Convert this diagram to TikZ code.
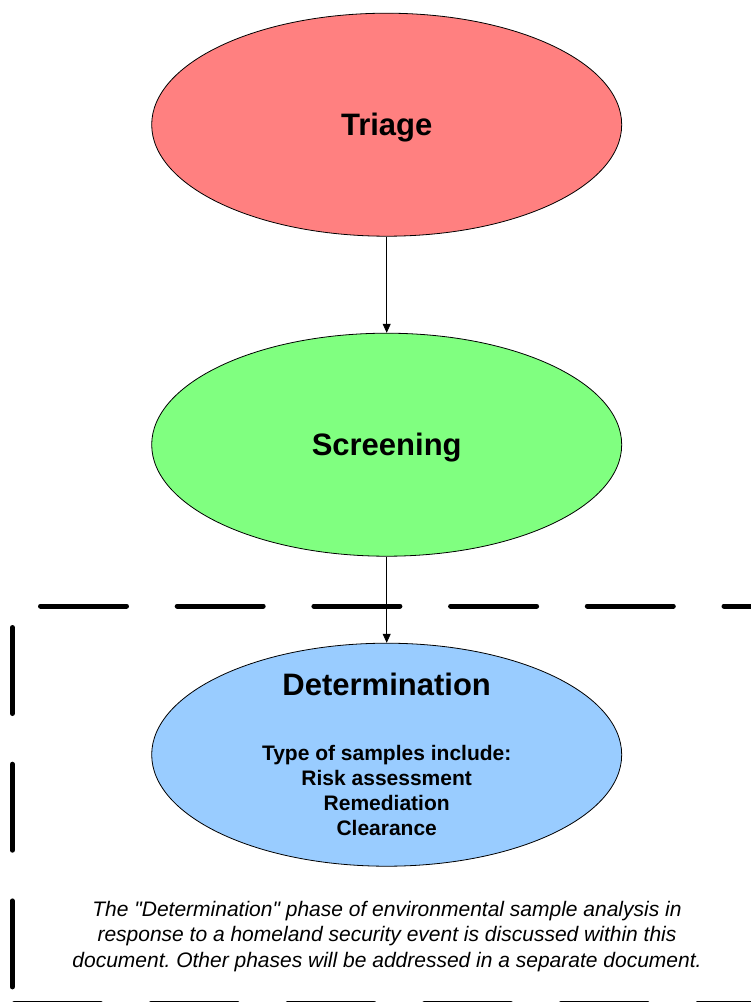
\documentclass[tikz,border=0pt]{standalone}
\usepackage{fontspec}
\setmainfont{Liberation Sans}
\usetikzlibrary{shapes.geometric,arrows.meta}
\definecolor{triagecol}{HTML}{FF8080}
\definecolor{screencol}{HTML}{80FF80}
\definecolor{detcol}{HTML}{99CCFF}
\frenchspacing
\begin{document}
\begin{tikzpicture}[x=1pt,y=-1pt,
  phase/.style={ellipse, draw=black, line width=0.8pt, minimum width=470pt, minimum height=223pt, inner sep=0pt},
  bigtxt/.style={font=\fontsize{31}{37}\selectfont\bfseries, anchor=base, inner sep=0pt},
  subtxt/.style={font=\fontsize{21}{25}\selectfont\bfseries, anchor=base, inner sep=0pt},
  notetxt/.style={font=\fontsize{21}{25}\selectfont\itshape, anchor=base, inner sep=0pt},
  bigdash/.style={line width=5pt, line cap=round, dash pattern=on 86pt off 50.7pt},
  arr/.style={line width=0.8pt, -{Triangle[length=9pt,width=8pt]}}]
\useasboundingbox (0,0) rectangle (751,1002);
\fill[white] (0,0) rectangle (751,1002);

% dashed frame
\coordinate (t1) at (40.5,606);
\coordinate (t2) at (780,606);
\coordinate (l1) at (12.3,627.5);
\coordinate (l2) at (12.3,995);
\coordinate (b1) at (14.5,1003);
\coordinate (b2) at (780,1003);
\draw[bigdash] (t1) -- (t2);
\draw[bigdash] (l1) -- (l2);
\draw[bigdash] (b1) -- (b2);

% ellipses
\node[phase, fill=triagecol] (tri) at (386.7,124.7) {};
\node[phase, fill=screencol] (scr) at (386.7,444.7) {};
\node[phase, fill=detcol] (det) at (386.7,754.7) {};

\node[bigtxt] (tritxt) at (386.7,135) {Triage};
\node[bigtxt] (scrtxt) at (386.7,455) {Screening};
\node[bigtxt] (dettxt) at (386.7,695) {Determination};

\node[subtxt] (s1) at (386.7,760) {Type of samples include:};
\node[subtxt] (s2) at (386.7,785.3) {Risk assessment};
\node[subtxt] (s3) at (386.7,810.6) {Remediation};
\node[subtxt] (s4) at (386.7,835.9) {Clearance};

\node[notetxt] (n1) at (387,916) {The \textquotedbl Determination\textquotedbl{} phase of environmental sample analysis in};
\node[notetxt] (n2) at (387,941.5) {response to a homeland security event is discussed within this};
\node[notetxt] (n3) at (387,967) {document. Other phases will be addressed in a separate document.};

% connectors
\draw[arr] (tri.south) -- (scr.north);
\draw[arr] (scr.south) -- (det.north);
\end{tikzpicture}
\end{document}
